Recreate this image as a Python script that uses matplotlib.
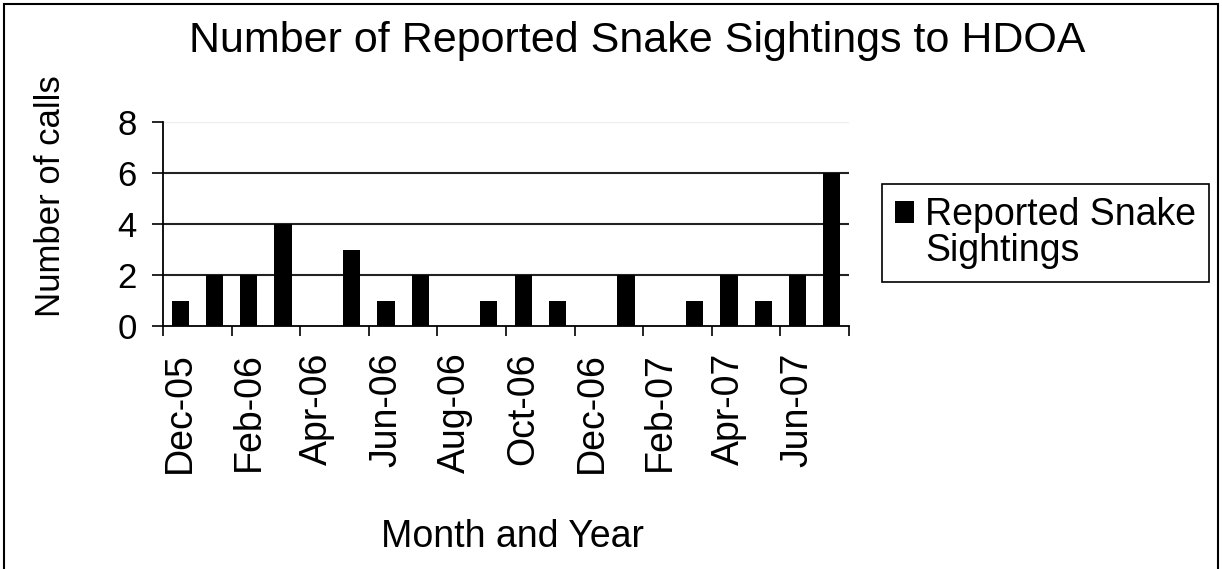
import matplotlib.pyplot as plt
from matplotlib.patches import Rectangle

plt.rcParams["font.family"] = ["Liberation Sans", "DejaVu Sans"]

# one bar per month, Dec-05 .. Jul-07
months = ["Dec-05", "Jan-06", "Feb-06", "Mar-06", "Apr-06", "May-06", "Jun-06",
          "Jul-06", "Aug-06", "Sep-06", "Oct-06", "Nov-06", "Dec-06", "Jan-07",
          "Feb-07", "Mar-07", "Apr-07", "May-07", "Jun-07", "Jul-07"]
calls = [1, 2, 2, 4, 0, 3, 1, 2, 0, 1, 2, 1, 0, 2, 0, 1, 2, 1, 2, 6]
y_ticks = [0, 2, 4, 6, 8]

fig = plt.figure(figsize=(12.22, 5.69), dpi=100)
ax = fig.add_axes([163 / 1222, 243 / 569, 686 / 1222, 204 / 569])

x = list(range(len(months)))
bars = ax.bar(x, calls, width=0.5, color="black", zorder=3)

ax.set_xlim(-0.5, len(months) - 0.5)
ax.set_ylim(0, 8)

# gridlines (top one is faint)
for v in y_ticks[1:-1]:
    ax.axhline(v, color="#222222", lw=1.5, zorder=1)
ax.axhline(8, color="#eeeeee", lw=1.0, zorder=1)

ax.set_yticks(y_ticks)
ax.set_yticklabels([str(v) for v in y_ticks], fontsize=25)
ax.tick_params(axis="y", length=8, width=1.2, pad=11)

# labels every second month, tick marks on the category boundaries
ax.set_xticks(x[::2])
ax.set_xticklabels(months[::2], rotation=90, fontsize=27)
ax.set_xticks([i - 0.5 for i in range(0, len(months) + 1, 2)], minor=True)
ax.tick_params(axis="x", which="major", length=0, pad=19)
ax.tick_params(axis="x", which="minor", length=7.5, width=1.2)

for s in ["top", "right"]:
    ax.spines[s].set_visible(False)
for s in ["left", "bottom"]:
    ax.spines[s].set_linewidth(1.3)
ax.set_facecolor("white")

fig.text(637 / 1222, 1 - 52 / 569, "Number of Reported Snake Sightings to HDOA",
         ha="center", va="baseline", fontsize=31)
fig.text(50 / 1222, 0.656, "Number of calls", rotation=90,
         ha="center", va="center", fontsize=25)
fig.text(512 / 1222, 1 - 547 / 569, "Month and Year",
         ha="center", va="baseline", fontsize=27)

# second, invisible entry carries the wrapped part of the label
blank = Rectangle((0, 0), 1, 1, fill=False, edgecolor="none")
leg = fig.legend([bars, blank], ["Reported Snake", "Sightings"],
                 loc="upper left", bbox_to_anchor=(882 / 1222, 1 - 184 / 569),
                 fontsize=27, frameon=True, fancybox=False, framealpha=1,
                 edgecolor="black", handlelength=0.5, handleheight=0.5,
                 handletextpad=0.3, labelspacing=0.0, borderpad=0.35,
                 borderaxespad=0)
leg.get_frame().set_linewidth(1.2)

# outer chart border (bottom edge runs off the image)
fig.add_artist(Rectangle((4 / 1222, -0.1), 1214 / 1222, 1.1 - 4 / 569,
                         transform=fig.transFigure, fill=False,
                         edgecolor="black", lw=1.5, clip_on=False))

fig.savefig("out.png", dpi=100)
